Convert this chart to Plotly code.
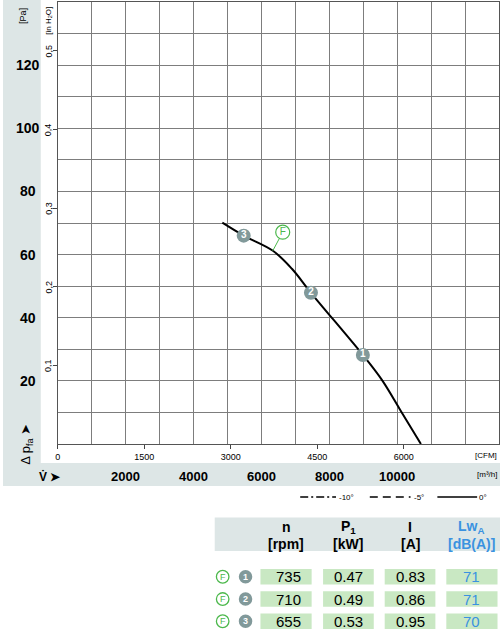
import plotly.graph_objects as go

# ---------------- data ----------------
flow_m3h = [4850, 5480, 6340, 6900, 7460, 8990, 9550, 10090, 10700]
pressure_pa = [70.1, 66.0, 61.2, 55.5, 47.9, 28.2, 20.3, 10.8, 0.0]

op_labels = ["1", "2", "3"]
op_flow = [8990, 7460, 5480]
op_pressure = [28.2, 47.9, 66.0]

f_anchor_flow, f_anchor_pa = 6336, 61.2
f_label_flow, f_label_pa = 6629, 67.1

pa_ticks = [20, 40, 60, 80, 100, 120]
inh2o_ticks = [0.1, 0.2, 0.3, 0.4, 0.5]
inh2o_labels = ["0,1", "0,2", "0,3", "0,4", "0,5"]
cfm_ticks = [0, 1500, 3000, 4500, 6000]
m3h_ticks = [2000, 4000, 6000, 8000, 10000]

table_rpm = ["735", "710", "655"]
table_kw = ["0.47", "0.49", "0.53"]
table_a = ["0.83", "0.86", "0.95"]
table_lwa = ["71", "71", "70"]

# ---------------- constants ----------------
W, H = 500, 630
PA_PER_INH2O = 249.089
CFM_PER_M3H = 0.588578
X_MAX, Y_MAX = 13000, 140

FONT = "Liberation Sans, Arial, sans-serif"
PANEL = "#dde6e6"
GRID = "#7d7d7d"
GREEN = "#4cb84c"
CELL = "#c9e8c3"
BLUE = "#3a92e0"
DISC = "#81999a"


def px(x):
    return x / W


def py(y):
    return 1 - y / H


fig = go.Figure()

# curve
fig.add_trace(go.Scatter(x=flow_m3h, y=pressure_pa, mode="lines",
                         line=dict(color="black", width=2, shape="spline", smoothing=1.0),
                         hoverinfo="skip", showlegend=False))
# F leader line
fig.add_trace(go.Scatter(x=[f_anchor_flow, f_label_flow], y=[f_anchor_pa, f_label_pa], mode="lines",
                         line=dict(color=GREEN, width=1), hoverinfo="skip", showlegend=False))
fig.add_trace(go.Scatter(x=[f_label_flow], y=[f_label_pa], mode="markers+text", text=["F"],
                         textposition="middle center",
                         textfont=dict(family=FONT, size=10, color=GREEN),
                         marker=dict(size=14, color="white", line=dict(color=GREEN, width=1.2)),
                         hoverinfo="skip", showlegend=False))
# operating points
fig.add_trace(go.Scatter(x=op_flow, y=op_pressure, mode="markers+text", text=op_labels,
                         textposition="middle center",
                         textfont=dict(family=FONT, size=10, color="white", weight="bold"),
                         marker=dict(size=14, color=DISC),
                         hoverinfo="skip", showlegend=False))
# invisible traces to activate secondary axes
fig.add_trace(go.Scatter(x=[0], y=[0], xaxis="x2", yaxis="y", mode="markers",
                         marker=dict(opacity=0), hoverinfo="skip", showlegend=False))
fig.add_trace(go.Scatter(x=[0], y=[0], xaxis="x", yaxis="y2", mode="markers",
                         marker=dict(opacity=0), hoverinfo="skip", showlegend=False))

x_dom = [px(55), px(499)]
y_dom = [py(444), py(2)]

fig.update_layout(
    width=W, height=H, margin=dict(l=0, r=0, t=0, b=0),
    paper_bgcolor="white", plot_bgcolor="white",
    font=dict(family=FONT, color="black"),
    xaxis=dict(domain=x_dom, range=[0, X_MAX], dtick=1000, showgrid=True, gridcolor=GRID, gridwidth=1,
               showticklabels=False, ticks="", zeroline=False, showline=True, mirror=True,
               linecolor="#555", linewidth=1, anchor="y", fixedrange=True),
    yaxis=dict(domain=y_dom, range=[0, Y_MAX], dtick=10, showgrid=True, gridcolor=GRID, gridwidth=1,
               showticklabels=False, ticks="", zeroline=False, showline=True, mirror=True,
               linecolor="#555", linewidth=1, anchor="x", fixedrange=True),
    xaxis2=dict(overlaying="x", anchor="y", side="bottom", range=[0, X_MAX * CFM_PER_M3H],
                tickmode="array", tickvals=cfm_ticks, ticktext=[str(v) for v in cfm_ticks],
                ticks="outside", ticklen=4, tickcolor="#444", showgrid=False, zeroline=False,
                showline=False, tickfont=dict(family=FONT, size=9, color="black"), fixedrange=True),
    yaxis2=dict(overlaying="y", anchor="x", side="left", range=[0, Y_MAX / PA_PER_INH2O],
                tickmode="array", tickvals=inh2o_ticks, ticks="outside", ticklen=4, tickcolor="#444",
                showticklabels=False, showgrid=False, zeroline=False, showline=False, fixedrange=True),
)

shapes = []
annotations = []

# background panels
shapes.append(dict(type="rect", xref="paper", yref="paper", x0=0, x1=px(38), y0=py(463), y1=1,
                   fillcolor=PANEL, line=dict(width=0), layer="below"))
shapes.append(dict(type="rect", xref="paper", yref="paper", x0=0, x1=1, y0=py(486), y1=py(463),
                   fillcolor=PANEL, line=dict(width=0), layer="below"))


def txt(x, y, s, size=10, bold=False, color="black", angle=0, xanchor="center", xref="paper", yref="paper"):
    annotations.append(dict(x=x, y=y, xref=xref, yref=yref, text=s, showarrow=False,
                            xanchor=xanchor, yanchor="middle", textangle=angle,
                            font=dict(family=FONT, size=size, color=color,
                                      weight="bold" if bold else "normal")))


# Pa labels
for v in pa_ticks:
    txt(px(25), v, str(v), size=14, bold=True, yref="y")
txt(px(20), py(16), "[Pa]", size=9, angle=-90)
# inH2O labels
for v, lab in zip(inh2o_ticks, inh2o_labels):
    txt(px(46), v, lab, size=9, angle=-90, yref="y2")
txt(px(46), py(21), "[in H<sub>2</sub>O]", size=8, angle=-90)
# axis titles
txt(px(23), py(444), "Δ p<sub>fa</sub> ➤", size=13, angle=-90)
txt(px(47), py(476), "V̇ ➤", size=12, bold=True)
txt(px(499), py(455), "[CFM]", size=8, xanchor="right")
txt(px(499), py(474), "[m³/h]", size=8, xanchor="right")
# m3/h labels
for v in m3h_ticks:
    txt(v, py(476), str(v), size=13, bold=True, xref="x")

# line-style legend
ly = py(497)
legend_items = [(299, 335, "8px,3px,2px,3px", 346, "-10°"),
                (369, 410, "8px,5px", 419, "-5°"),
                (437, 477, "solid", 483, "0°")]
for x0, x1, dash, tx, lab in legend_items:
    shapes.append(dict(type="line", xref="paper", yref="paper", x0=px(x0), x1=px(x1), y0=ly, y1=ly,
                       line=dict(color="black", width=1.5, dash=dash)))
    txt(px(tx), ly, lab, size=8)

# table header
shapes.append(dict(type="rect", xref="paper", yref="paper", x0=px(213), x1=1, y0=py(551), y1=py(517.5),
                   fillcolor=PANEL, line=dict(width=0), layer="below"))
col_x = [(259, 310.5), (322, 373), (384, 435), (446, 497.5)]
head1 = ["n", "P<sub>1</sub>", "I", "Lw<sub>A</sub>"]
head2 = ["[rpm]", "[kW]", "[A]", "[dB(A)]"]
for i, (x0, x1) in enumerate(col_x):
    c = BLUE if i == 3 else "black"
    xc = (x0 + x1) / 2
    txt(px(xc), py(527), head1[i], size=14, bold=True, color=c)
    txt(px(xc), py(543.5), head2[i], size=14, bold=True, color=c)

row_y = [(569, 584.5), (591.3, 606.8), (613.5, 629)]
cols = [table_rpm, table_kw, table_a, table_lwa]
for r, (y0, y1) in enumerate(row_y):
    yc = (y0 + y1) / 2
    for i, (x0, x1) in enumerate(col_x):
        shapes.append(dict(type="rect", xref="paper", yref="paper", x0=px(x0), x1=px(x1),
                           y0=py(y1), y1=py(y0), fillcolor=CELL, line=dict(width=0), layer="below"))
        c = BLUE if i == 3 else "black"
        if i == 0:
            txt(px(x1 - 9), py(yc), cols[i][r], size=15, color=c, xanchor="right")
        else:
            txt(px((x0 + x1) / 2), py(yc), cols[i][r], size=15, color=c)
    # F circle
    rr = 6.3
    shapes.append(dict(type="circle", xref="paper", yref="paper", x0=px(221 - rr), x1=px(221 + rr),
                       y0=py(yc + rr), y1=py(yc - rr), fillcolor="white", line=dict(color=GREEN, width=1.3)))
    txt(px(221), py(yc), "F", size=9, color=GREEN)
    shapes.append(dict(type="circle", xref="paper", yref="paper", x0=px(244 - 6.8), x1=px(244 + 6.8),
                       y0=py(yc + 6.8), y1=py(yc - 6.8), fillcolor=DISC, line=dict(width=0)))
    txt(px(244), py(yc), op_labels[r], size=9, bold=True, color="white")

fig.update_layout(shapes=shapes, annotations=annotations)
fig.write_html("out.html", config={"displayModeBar": False},
               post_script="document.body.style.margin='0';document.body.style.overflow='hidden';")
